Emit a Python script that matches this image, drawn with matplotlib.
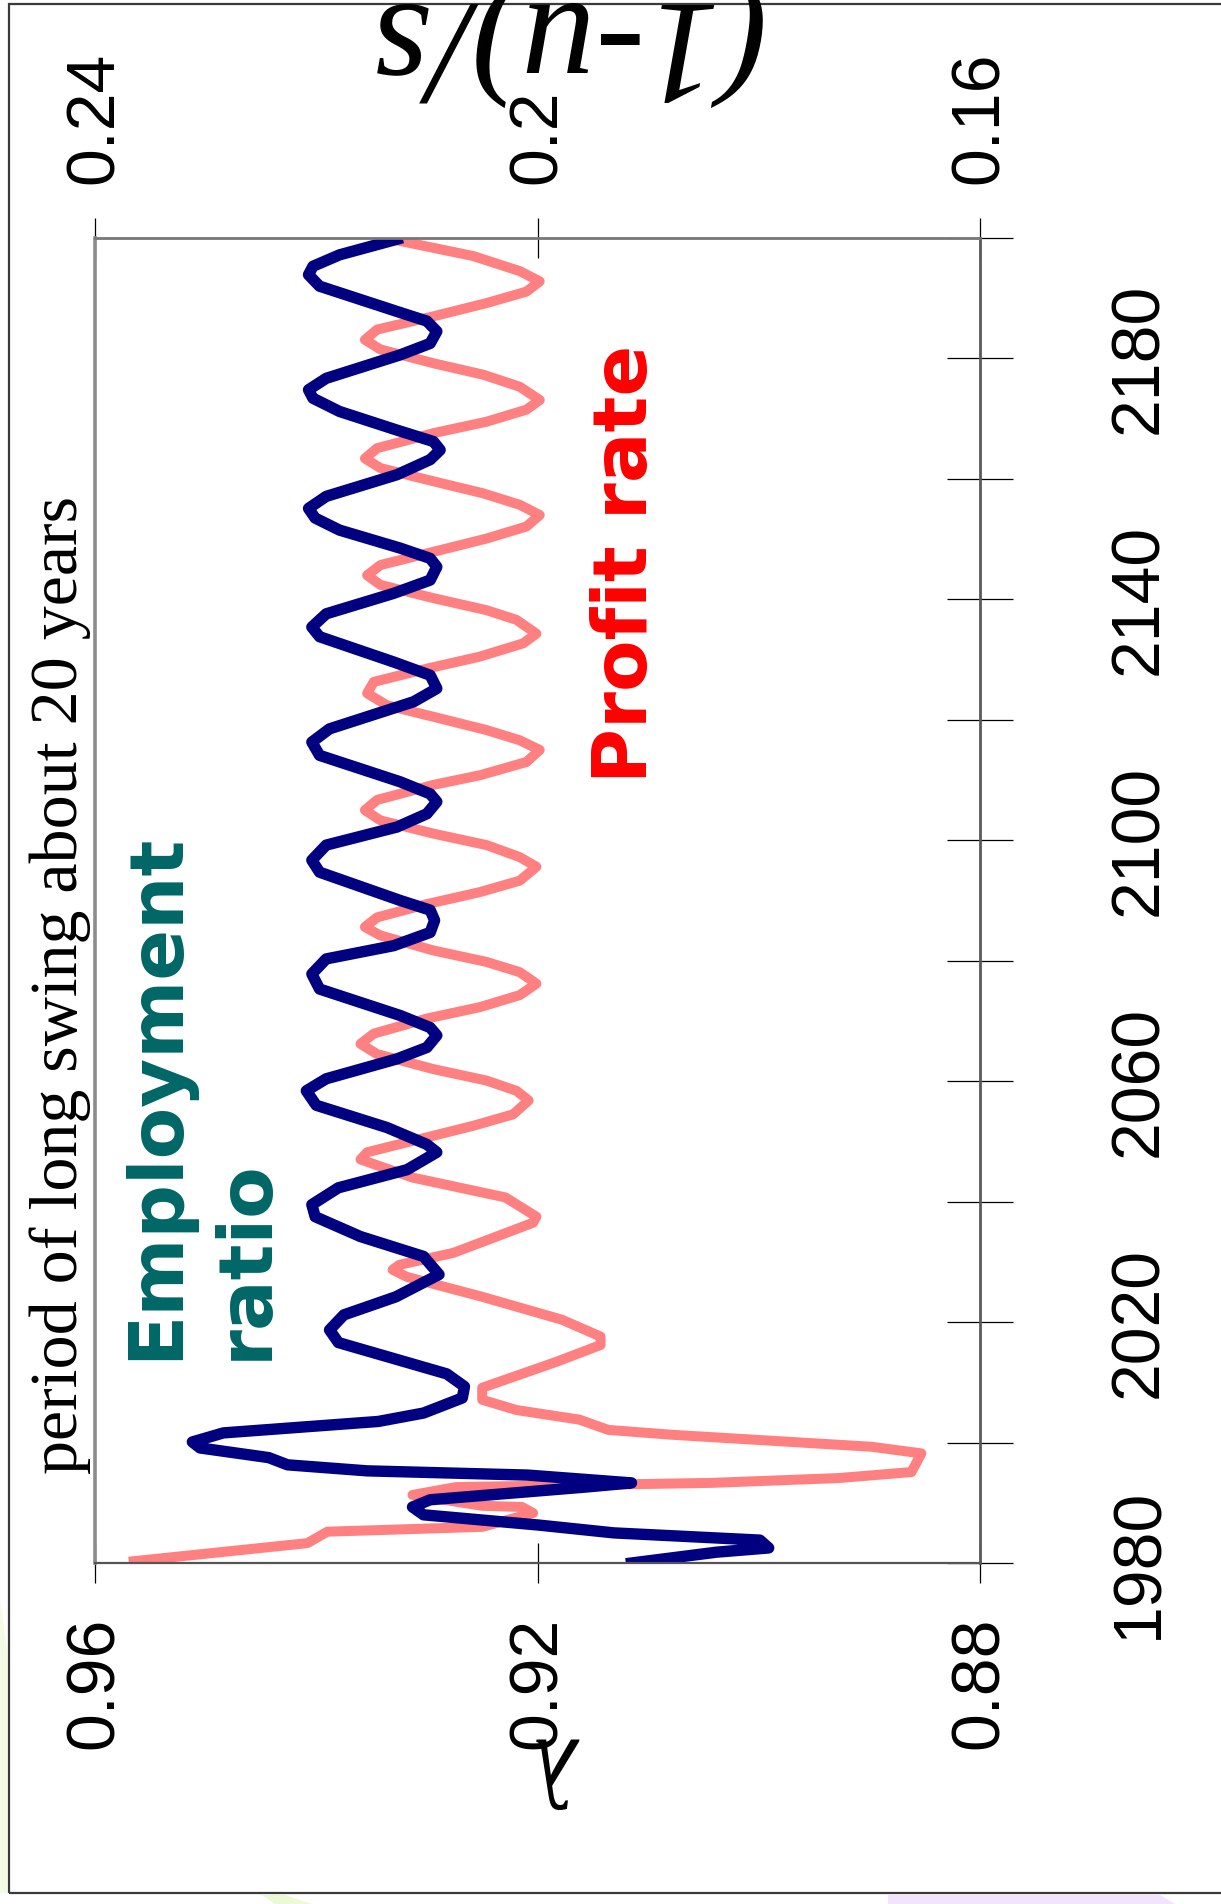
# Long swing simulation: employment ratio and profit rate, drawn sideways

import matplotlib
matplotlib.use('Agg')
import matplotlib.pyplot as plt
from matplotlib import font_manager
from matplotlib.patches import Rectangle, Polygon

# Employment ratio (lambda), bottom scale
emp_years = [1980.0, 1981.8, 1982.5, 1983.8, 1985.0, 1986.3, 1988.0, 1989.3, 1990.5, 1992.6,
             1993.3, 1994.6, 1995.3, 1996.3, 1997.5, 1999.1, 2000.1, 2001.6, 2003.5, 2004.9,
             2007.4, 2009.3, 2011.4, 2016.6, 2018.7, 2021.2, 2024.2, 2027.9, 2030.9, 2034.2,
             2037.5, 2039.5, 2042.3, 2045.3, 2048.2, 2049.5, 2052.3, 2056.0, 2058.4, 2060.4,
             2063.7, 2065.6, 2067.6, 2068.9, 2070.9, 2075.3, 2077.8, 2080.3, 2082.5, 2084.7,
             2086.7, 2088.4, 2090.0, 2094.7, 2096.7, 2099.2, 2102.2, 2104.4, 2106.4, 2107.7,
             2109.7, 2114.1, 2116.3, 2118.5, 2123.0, 2125.2, 2127.4, 2129.6, 2133.8, 2135.4,
             2137.6, 2141.0, 2143.2, 2145.4, 2146.8, 2148.5, 2151.5, 2153.5, 2155.1, 2157.1,
             2160.7, 2163.2, 2164.8, 2166.2, 2168.1, 2171.2, 2173.4, 2174.8, 2176.7, 2180.6,
             2182.5, 2184.5, 2186.2, 2187.8, 2192.0, 2193.9, 2195.3, 2197.2, 2199.8]
emp_ratio = [0.9115, 0.9038, 0.8991, 0.8999, 0.9131, 0.9199, 0.9303, 0.9313, 0.9297, 0.9157,
             0.9115, 0.9209, 0.9354, 0.9426, 0.9443, 0.9505, 0.9512, 0.9484, 0.9344, 0.9303,
             0.9268, 0.9266, 0.9282, 0.9380, 0.9388, 0.9375, 0.9328, 0.9289, 0.9303, 0.9360,
             0.9401, 0.9404, 0.9380, 0.9318, 0.9291, 0.9300, 0.9336, 0.9400, 0.9409, 0.9391,
             0.9327, 0.9300, 0.9291, 0.9297, 0.9324, 0.9397, 0.9404, 0.9391, 0.9330, 0.9297,
             0.9293, 0.9297, 0.9324, 0.9397, 0.9404, 0.9391, 0.9327, 0.9300, 0.9291, 0.9297,
             0.9324, 0.9397, 0.9404, 0.9388, 0.9312, 0.9291, 0.9297, 0.9330, 0.9397, 0.9404,
             0.9391, 0.9330, 0.9297, 0.9291, 0.9297, 0.9324, 0.9379, 0.9401, 0.9407, 0.9391,
             0.9327, 0.9297, 0.9288, 0.9294, 0.9327, 0.9379, 0.9403, 0.9407, 0.9391, 0.9324,
             0.9297, 0.9291, 0.9300, 0.9327, 0.9397, 0.9407, 0.9403, 0.9379, 0.9327]

# Profit rate (1-u)/s, top scale
profit_years = [1980.3, 1983.3, 1985.2, 1986.0, 1988.3, 1989.3, 1989.5, 1991.3, 1992.6, 1993.3,
                1994.1, 1995.1, 1998.2, 1999.3, 2001.3, 2002.1, 2003.8, 2005.4, 2007.1, 2009.1,
                2013.4, 2016.2, 2017.6, 2020.4, 2024.2, 2027.5, 2028.7, 2029.5, 2031.5, 2036.5,
                2037.5, 2040.7, 2044.0, 2047.0, 2048.2, 2050.4, 2052.6, 2054.5, 2056.8, 2058.4,
                2060.1, 2062.0, 2064.5, 2066.2, 2067.9, 2070.4, 2072.3, 2074.3, 2076.2, 2078.1,
                2079.8, 2081.7, 2084.2, 2085.6, 2087.2, 2089.4, 2091.4, 2093.3, 2095.6, 2097.2,
                2099.2, 2101.1, 2103.3, 2105.0, 2106.7, 2109.2, 2110.8, 2113.0, 2115.0, 2116.6,
                2118.3, 2120.5, 2122.4, 2124.4, 2126.3, 2128.5, 2130.5, 2132.7, 2134.3, 2136.6,
                2138.2, 2140.2, 2142.4, 2144.0, 2145.7, 2147.9, 2150.1, 2152.1, 2154.0, 2155.7,
                2157.6, 2159.6, 2161.8, 2163.4, 2165.1, 2167.6, 2169.5, 2171.5, 2173.1, 2175.3,
                2177.3, 2179.2, 2181.5, 2183.1, 2184.8, 2187.0, 2189.2, 2191.1, 2192.8, 2194.5,
                2197.0, 2199.5]
profit_rate = [0.2365, 0.2208, 0.2190, 0.2050, 0.2004, 0.2014, 0.2050, 0.2113, 0.2074, 0.1843,
               0.1728, 0.1662, 0.1653, 0.1698, 0.1879, 0.1936, 0.1962, 0.2019, 0.2050, 0.2050,
               0.1983, 0.1943, 0.1943, 0.1978, 0.2050, 0.2118, 0.2131, 0.2125, 0.2076, 0.2004,
               0.2001, 0.2029, 0.2113, 0.2160, 0.2154, 0.2106, 0.2058, 0.2022, 0.2008, 0.2019,
               0.2046, 0.2094, 0.2145, 0.2160, 0.2148, 0.2100, 0.2052, 0.2016, 0.2001, 0.2016,
               0.2046, 0.2094, 0.2142, 0.2156, 0.2145, 0.2100, 0.2052, 0.2016, 0.2001, 0.2016,
               0.2046, 0.2094, 0.2142, 0.2156, 0.2145, 0.2094, 0.2052, 0.2010, 0.1998, 0.2016,
               0.2046, 0.2094, 0.2136, 0.2154, 0.2148, 0.2100, 0.2052, 0.2013, 0.2001, 0.2019,
               0.2046, 0.2094, 0.2142, 0.2154, 0.2142, 0.2094, 0.2046, 0.2010, 0.1998, 0.2016,
               0.2049, 0.2094, 0.2142, 0.2156, 0.2145, 0.2094, 0.2046, 0.2010, 0.1998, 0.2016,
               0.2049, 0.2094, 0.2142, 0.2156, 0.2145, 0.2094, 0.2046, 0.2010, 0.1998, 0.2016,
               0.2058, 0.2124]

emp_ticks = [0.96, 0.92, 0.88]
emp_tick_labels = ['0.96', '0.92', '0.88']
profit_ticks = [0.24, 0.2, 0.16]
profit_tick_labels = ['0.24', '0.2', '0.16']
year_ticks = list(range(1980, 2201, 20))
year_tick_labels = [str(y) if (y - 1980) % 40 == 0 and y < 2200 else '' for y in year_ticks]

W, H = 1221, 1904
serif_font = ['Liberation Serif', 'DejaVu Serif']

# narrow face for the tick numbers if it is there, else the plain one a bit smaller
try:
    font_manager.findfont('Liberation Sans Narrow', fallback_to_default=False)
    tick_font, tick_size = 'Liberation Sans Narrow', 55
except ValueError:
    tick_font, tick_size = 'Liberation Sans', 49

fig = plt.figure(figsize=(W / 100, H / 100), dpi=100)

# plot box in pixels: x 95..980, y 238..1563 (from top)
box = [95 / W, 1 - 1563 / H, 885 / W, 1325 / H]
ax = fig.add_axes(box)
ax2 = ax.twiny()

# red on the twin underneath, blue on top
ax.set_zorder(2)
ax2.set_zorder(1)
ax.patch.set_visible(False)
ax2.patch.set_facecolor('white')

ax2.plot(profit_rate, profit_years, color='#FF8080', lw=7.2, solid_joinstyle='round')
ax.plot(emp_ratio, emp_years, color='#000080', lw=8.2, solid_joinstyle='round')

ax.set_xlim(0.96, 0.88)
ax2.set_xlim(0.24, 0.16)
ax.set_ylim(1980, 2200)

# bottom scale
ax.xaxis.set_ticks_position('bottom')
ax.set_xticks(emp_ticks)
ax.set_xticklabels(emp_tick_labels, rotation=90, fontsize=tick_size, family=tick_font)
ax.tick_params(axis='x', direction='inout', length=29.5, width=0.9, color='black', pad=24)

# top scale
ax2.xaxis.set_ticks_position('top')
ax2.set_xticks(profit_ticks)
ax2.set_xticklabels(profit_tick_labels, rotation=90, fontsize=tick_size, family=tick_font)
ax2.tick_params(axis='x', direction='inout', length=29.5, width=0.9, color='black', pad=24)

# years on the right
ax.yaxis.set_ticks_position('right')
ax.set_yticks(year_ticks)
ax.set_yticklabels(year_tick_labels, rotation=90, va='center', fontsize=tick_size,
                   family=tick_font)
ax.tick_params(axis='y', direction='inout', length=47.5, width=0.9, color='black', pad=68)

for s in ax2.spines.values():
    s.set_visible(False)
ax.spines['left'].set_color('#8c8c8c')
ax.spines['left'].set_linewidth(2.6)
ax.spines['top'].set_color('#777777')
ax.spines['top'].set_linewidth(2.0)
ax.spines['right'].set_color('#5a5a5a')
ax.spines['right'].set_linewidth(2.0)
ax.spines['bottom'].set_color('#555555')
ax.spines['bottom'].set_linewidth(1.6)


def fx(px):
    return px / W


def fy(py):
    return 1 - py / H


# axis titles (rotated with the chart)
fig.text(fx(560), fy(4), '(1-u)/s', rotation=180, rotation_mode='anchor',
         ha='center', va='baseline', fontsize=107, style='italic', family=serif_font)
fig.text(fx(561), fy(1762), '\u03bb', rotation=180, rotation_mode='anchor',
         ha='center', va='center', fontsize=72, style='italic', family=serif_font)

# annotations
fig.text(fx(77), fy(1474), 'period of long swing about 20 years', rotation=90,
         rotation_mode='anchor', ha='left', va='baseline', fontsize=49, family=serif_font)
fig.text(fx(177), fy(1360), 'Employment', rotation=90, rotation_mode='anchor',
         ha='left', va='baseline', fontsize=54, fontweight='bold', color='#006666',
         family='DejaVu Sans')
fig.text(fx(267), fy(1360), 'ratio', rotation=90, rotation_mode='anchor',
         ha='left', va='baseline', fontsize=54, fontweight='bold', color='#006666',
         family='DejaVu Sans')
fig.text(fx(647), fy(783), 'Profit rate', rotation=90, rotation_mode='anchor',
         ha='left', va='baseline', fontsize=54, fontweight='bold', color='#FF0000',
         family='DejaVu Sans')

# slide frame and faint background pieces at the edges
fig.add_artist(Rectangle((fx(9), fy(1893)), 1.2, (1893 - 4) / H, transform=fig.transFigure,
                         fill=False, ec='#3a3a3a', lw=1.6, clip_on=False))
fig.add_artist(Polygon([(fx(262), fy(1895)), (fx(285), fy(1895)), (fx(312), fy(1904)),
                        (fx(275), fy(1904))], closed=True, transform=fig.transFigure,
                       fc='#ecf9d4', ec='none'))
fig.add_artist(Polygon([(fx(888), fy(1895)), (fx(1160), fy(1895)), (fx(1175), fy(1904)),
                        (fx(888), fy(1904))], closed=True, transform=fig.transFigure,
                       fc='#f1e4fc', ec='none'))
fig.add_artist(Polygon([(0, fy(1600)), (fx(7), fy(1650)), (fx(7), fy(1893)), (0, fy(1893))],
                       closed=True, transform=fig.transFigure, fc='#f3fbe4', ec='none'))

fig.savefig('out.png', dpi=100)
